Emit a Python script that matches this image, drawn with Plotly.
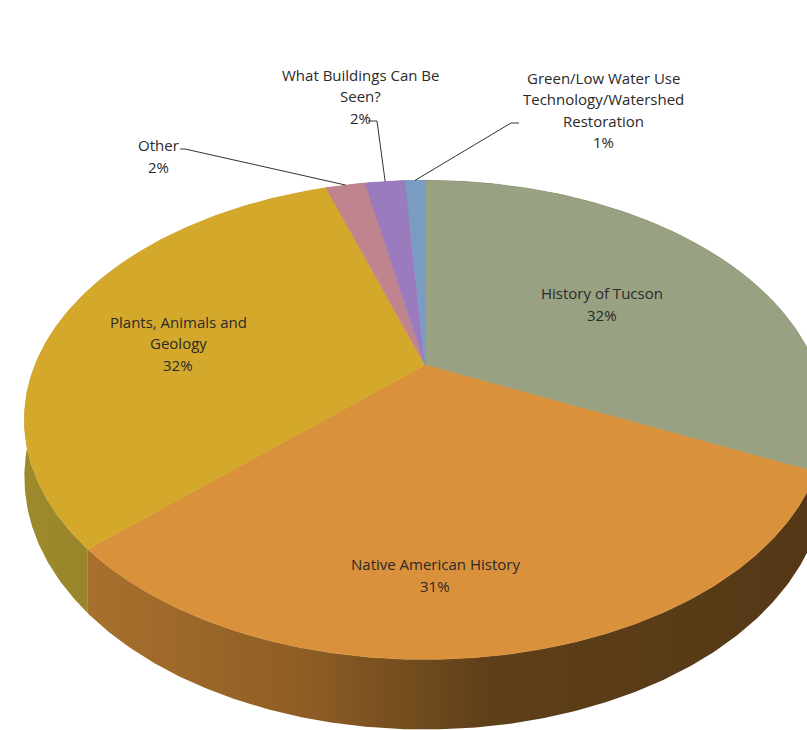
import math
import plotly.graph_objects as go

# ---- data ----
categories = ["History of Tucson", "Native American History", "Plants, Animals and Geology",
              "Other", "What Buildings Can Be Seen?", "Green/Low Water Use Technology/Watershed Restoration"]
values = [32, 31, 32, 2, 2, 1]
pct_labels = ["32%", "31%", "32%", "2%", "2%", "1%"]
label_lines = [
    ["History of Tucson"],
    ["Native American History"],
    ["Plants, Animals and", "Geology"],
    ["Other"],
    ["What Buildings Can Be", "Seen?"],
    ["Green/Low Water Use", "Technology/Watershed", "Restoration"],
]

# ---- styles / layout ----
top_colors = ["#98A283", "#D9913B", "#D4A92B", "#C0848F", "#9A7BBD", "#7B9CC2"]
side_scales = [
    [[0, "#4E3D1C"], [1, "#4E3D1C"]],
    [[0, "#A8702D"], [0.3, "#8E5D24"], [0.55, "#5E3F1A"], [1, "#543815"]],
    [[0, "#9C8A2C"], [1, "#8E7626"]],
    [[0, "#8A6A5A"], [1, "#8A6A5A"]],
    [[0, "#6E5A88"], [1, "#6E5A88"]],
    [[0, "#5A708A"], [1, "#5A708A"]],
]
W, H = 807, 730
CX, CY = 425, 365      # pie centre on screen
R, A, K = 390, 227, 0.229   # horizontal radius, vertical scale, perspective
D0 = 54                 # thickness
label_centers = [(602, 304), (435, 575), (178, 343), (158, 156), (360, 96), (603, 110)]
leader_start = {3: [(180, 149), (185, 149)], 4: [(368, 121), (377, 121)], 5: [(519, 123), (511, 123)]}
LINE_H = 21.5
FONT = "Open Sans"
FSIZE = 15
TXT = "#2A2A2A"


def proj(theta_deg, r=1.0, depth=0.0):
    t = math.radians(theta_deg)
    c = r * math.sin(t)
    s = r * math.cos(t)
    d = 1 + K * s
    return CX + R * c / d, CY - A * s / d + depth * D0 / d


def arc(a0, a1, r=1.0, depth=0.0):
    n = max(3, int(abs(a1 - a0) * 2))
    xs, ys = [], []
    for i in range(n + 1):
        x, y = proj(a0 + (a1 - a0) * i / n, r, depth)
        xs.append(x)
        ys.append(y)
    return xs, ys


total = sum(values)
bounds = []
acc = 0
for v in values:
    a0 = acc / total * 360
    acc += v
    a1 = acc / total * 360
    bounds.append((a0, a1))

fig = go.Figure()

# sides (drawn first, covered by tops where hidden)
for i, (a0, a1) in enumerate(bounds):
    tx, ty = arc(a0, a1, 1, 0)
    bx, by = arc(a1, a0, 1, 1)
    fig.add_trace(go.Scatter(
        x=tx + bx + [tx[0]], y=ty + by + [ty[0]], mode="lines", fill="toself",
        line=dict(width=0), fillgradient=dict(type="horizontal", colorscale=side_scales[i]),
        hoverinfo="skip", showlegend=False))

# top faces
for i, (a0, a1) in enumerate(bounds):
    xs, ys = arc(a0, a1, 1, 0)
    xs = [CX] + xs + [CX]
    ys = [CY] + ys + [CY]
    fig.add_trace(go.Scatter(
        x=xs, y=ys, mode="lines", fill="toself", fillcolor=top_colors[i],
        line=dict(width=0.6, color=top_colors[i]), hoverinfo="skip", showlegend=False))

# leader lines
for i, pts in leader_start.items():
    a0, a1 = bounds[i]
    ex, ey = proj((a0 + a1) / 2, 1, 0)
    fig.add_trace(go.Scatter(
        x=[p[0] for p in pts] + [ex], y=[p[1] for p in pts] + [ey], mode="lines",
        line=dict(color="#333333", width=1), hoverinfo="skip", showlegend=False))

# labels
annotations = []
for i, lines in enumerate(label_lines):
    all_lines = lines + [pct_labels[i]]
    cx, cy = label_centers[i]
    n = len(all_lines)
    for j, t in enumerate(all_lines):
        annotations.append(dict(
            x=cx, y=cy + (j - (n - 1) / 2) * LINE_H, xref="x", yref="y", text=t,
            showarrow=False, font=dict(family=FONT, size=FSIZE, color=TXT),
            xanchor="center", yanchor="middle"))

fig.update_layout(
    width=W, height=H, margin=dict(l=0, r=0, t=0, b=0),
    paper_bgcolor="white", plot_bgcolor="white",
    xaxis=dict(range=[0, W], visible=False, fixedrange=True),
    yaxis=dict(range=[H, 0], visible=False, fixedrange=True),
    annotations=annotations, showlegend=False)

fig.write_html("out.html", config={"displayModeBar": False},
               post_script="document.body.style.margin='0';document.body.style.overflow='hidden';")
